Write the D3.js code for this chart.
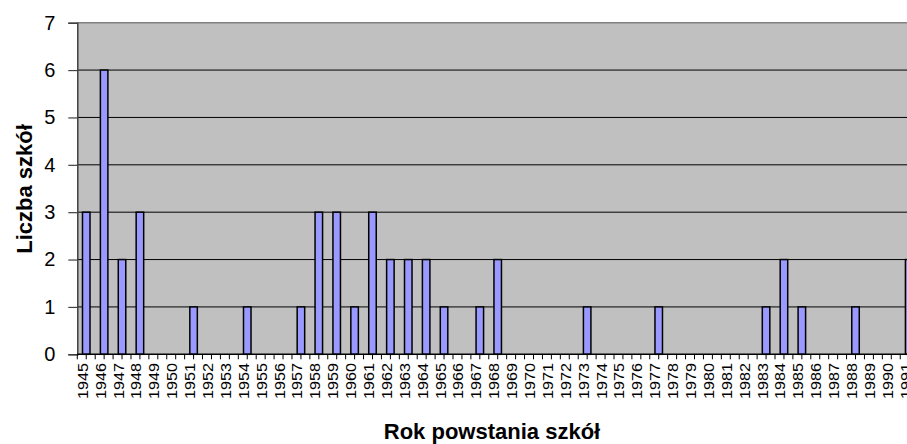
<!DOCTYPE html>
<html>
<head>
<meta charset="utf-8">
<script src="https://cdn.jsdelivr.net/npm/d3@7"></script>
<style>
  html, body { margin: 0; padding: 0; background: #fff; overflow: hidden; }
  svg { display: block; font-family: "Liberation Sans", Arial, sans-serif; }
</style>
</head>
<body>
<script>
const years = ["1945","1946","1947","1948","1949","1950","1951","1952","1953","1954","1955","1956","1957","1958","1959","1960","1961","1962","1963","1964","1965","1966","1967","1968","1969","1970","1971","1972","1973","1974","1975","1976","1977","1978","1979","1980","1981","1982","1983","1984","1985","1986","1987","1988","1989","1990","1991"];
const counts = [3,6,2,3,0,0,1,0,0,1,0,0,1,3,3,1,3,2,2,2,1,0,1,2,0,0,0,0,1,0,0,0,1,0,0,0,0,0,1,2,1,0,0,1,0,0,2];
const yTicks = [0,1,2,3,4,5,6,7];
const xTitle = "Rok powstania szkół";
const yTitle = "Liczba szkół";

const W = 907, H = 444;
const pLeft = 77.3, pTop = 22.7, pBottom = 354.3;
const step = 17.89;
const pRight = pLeft + step * years.length;

const svg = d3.select("body").append("svg").attr("width", W).attr("height", H);

const x = d3.scaleBand().domain(years).range([pLeft, pRight]).padding(0);
const y = d3.scaleLinear().domain([0, 7]).range([pBottom, pTop]);

// plot background
svg.append("rect").attr("x", pLeft).attr("y", pTop)
  .attr("width", pRight - pLeft).attr("height", pBottom - pTop)
  .attr("fill", "#C0C0C0");

// gridlines
svg.append("g").selectAll("line").data(yTicks.filter(d => d > 0 && d < 7)).join("line")
  .attr("x1", pLeft).attr("x2", pRight)
  .attr("y1", d => y(d)).attr("y2", d => y(d))
  .attr("stroke", "#000").attr("stroke-width", 1);

// top border
svg.append("line").attr("x1", pLeft).attr("x2", pRight).attr("y1", y(7)).attr("y2", y(7))
  .attr("stroke", "#808080").attr("stroke-width", 1.5);

// bars
const bw = x.bandwidth() * 0.42;
svg.append("g").selectAll("rect").data(years.map((yr, i) => ({yr, v: counts[i]})).filter(d => d.v > 0)).join("rect")
  .attr("x", d => x(d.yr) + x.bandwidth() / 2 - bw / 2)
  .attr("y", d => y(d.v))
  .attr("width", bw)
  .attr("height", d => y(0) - y(d.v))
  .attr("fill", "#9999FF")
  .attr("stroke", "#000").attr("stroke-width", 1.5);

// y axis
const yAxis = d3.axisLeft(y).tickValues(yTicks).tickSize(9).tickPadding(13).tickFormat(d3.format("d"));
const gy = svg.append("g").attr("transform", `translate(${pLeft},0)`).call(yAxis);
gy.select(".domain").attr("stroke", "#404040").attr("stroke-width", 1.5);
gy.selectAll(".tick line").attr("stroke", "#404040").attr("stroke-width", 1.2);
gy.selectAll(".tick text").attr("font-size", 20).attr("fill", "#000")
  .attr("font-family", "'Liberation Sans', Arial, sans-serif");

// x axis baseline
svg.append("line").attr("x1", pLeft).attr("x2", pRight).attr("y1", pBottom).attr("y2", pBottom)
  .attr("stroke", "#000").attr("stroke-width", 1.5);

// x ticks at half-category intervals
const tickPos = [];
years.forEach(yr => { tickPos.push(x(yr)); tickPos.push(x(yr) + x.bandwidth() / 2); });
tickPos.push(pRight);
svg.append("g").selectAll("line").data(tickPos).join("line")
  .attr("x1", d => d).attr("x2", d => d)
  .attr("y1", pBottom).attr("y2", pBottom + 5)
  .attr("stroke", "#000").attr("stroke-width", 1);

// x labels rotated
svg.append("g").selectAll("text").data(years).join("text")
  .attr("transform", d => `translate(${x(d) + x.bandwidth() / 2 + 1.5},${363}) rotate(-90)`)
  .attr("text-anchor", "end")
  .attr("font-size", 14)
  .attr("textLength", 36)
  .attr("lengthAdjust", "spacingAndGlyphs")
  .attr("fill", "#000")
  .text(d => d);

// axis titles
svg.append("text").attr("x", 492).attr("y", 439)
  .attr("text-anchor", "middle").attr("font-size", 22).attr("font-weight", "bold")
  .text(xTitle);
svg.append("text").attr("transform", `translate(32,189) rotate(-90)`)
  .attr("text-anchor", "middle").attr("font-size", 22).attr("font-weight", "bold")
  .text(yTitle);
</script>
</body>
</html>
